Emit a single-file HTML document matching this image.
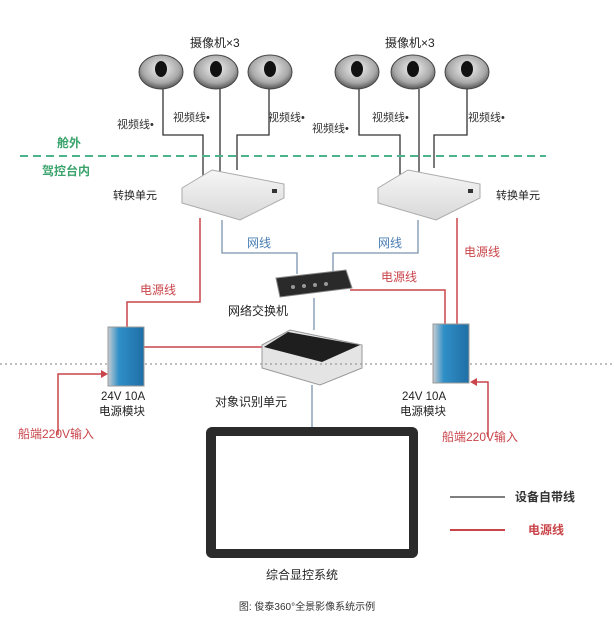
<!DOCTYPE html>
<html><head><meta charset="utf-8"><style>
html,body{margin:0;padding:0;background:#fff;}
svg{display:block;font-family:"Liberation Sans","Noto Sans CJK SC",sans-serif;}
</style></head><body>
<svg width="614" height="636" viewBox="0 0 614 636" xmlns="http://www.w3.org/2000/svg">
<defs>
<radialGradient id="cam" cx="50%" cy="40%" r="60%"><stop offset="0" stop-color="#f4f4f4"/><stop offset="0.7" stop-color="#a8a8a8"/><stop offset="1" stop-color="#555"/></radialGradient>
<linearGradient id="box" x1="0" y1="0" x2="0" y2="1"><stop offset="0" stop-color="#f6f6f6"/><stop offset="1" stop-color="#d8d8d8"/></linearGradient>
<linearGradient id="psu" x1="0" y1="0" x2="1" y2="0"><stop offset="0" stop-color="#c8cdd2"/><stop offset="0.3" stop-color="#2f8fc7"/><stop offset="1" stop-color="#1f6fa5"/></linearGradient>
</defs>
<g font-size="12" fill="#222">
<text x="190" y="47">摄像机×3</text><text x="385" y="47">摄像机×3</text>
</g>
<!-- cameras -->
<g>
<g transform="translate(161,72)"><ellipse rx="22" ry="17" fill="url(#cam)" stroke="#444"/><ellipse cy="-3" rx="6" ry="8" fill="#111"/></g>
<g transform="translate(216,72)"><ellipse rx="22" ry="17" fill="url(#cam)" stroke="#444"/><ellipse cy="-3" rx="6" ry="8" fill="#111"/></g>
<g transform="translate(270,72)"><ellipse rx="22" ry="17" fill="url(#cam)" stroke="#444"/><ellipse cy="-3" rx="6" ry="8" fill="#111"/></g>
<g transform="translate(357,72)"><ellipse rx="22" ry="17" fill="url(#cam)" stroke="#444"/><ellipse cy="-3" rx="6" ry="8" fill="#111"/></g>
<g transform="translate(413,72)"><ellipse rx="22" ry="17" fill="url(#cam)" stroke="#444"/><ellipse cy="-3" rx="6" ry="8" fill="#111"/></g>
<g transform="translate(467,72)"><ellipse rx="22" ry="17" fill="url(#cam)" stroke="#444"/><ellipse cy="-3" rx="6" ry="8" fill="#111"/></g>
</g>
<!-- video lines -->
<g fill="none" stroke="#333" stroke-width="1.3">
<polyline points="163,89 163,135 203,135 203,180"/>
<polyline points="220,89 220,172"/>
<polyline points="269,89 269,135 237,135 237,170"/>
<polyline points="359,89 359,135 400,135 400,180"/>
<polyline points="419,89 419,172"/>
<polyline points="467,89 467,135 434,135 434,168"/>
</g>
<g font-size="11" fill="#333">
<text x="117" y="128">视频线•</text><text x="173" y="121">视频线•</text><text x="268" y="121">视频线•</text>
<text x="312" y="132">视频线•</text><text x="372" y="121">视频线•</text><text x="468" y="121">视频线•</text>
</g>
<line x1="20" y1="156" x2="546" y2="156" stroke="#4db38a" stroke-width="2" stroke-dasharray="8,5"/>
<text x="57" y="147" font-size="12" font-weight="bold" fill="#3aa36b">舱外</text>
<text x="42" y="175" font-size="12" font-weight="bold" fill="#3aa36b">驾控台内</text>
<!-- converters -->
<g stroke="#aaa" fill="url(#box)">
<polygon points="182,188 212,170 284,184 284,198 240,220 182,203"/>
<polygon points="378,188 408,170 480,184 480,198 436,220 378,203"/>
</g>
<rect x="272" y="189" width="5" height="4" fill="#333"/><rect x="468" y="189" width="5" height="4" fill="#333"/>
<g font-size="11" fill="#222"><text x="113" y="199">转换单元</text><text x="496" y="199">转换单元</text></g>
<!-- network lines -->
<g fill="none" stroke="#7b93ad" stroke-width="1.3">
<polyline points="222,220 222,253 297,253 297,274"/>
<polyline points="418,220 418,253 333,253 333,274"/>
<line x1="314" y1="298" x2="314" y2="330"/>
<line x1="312" y1="385" x2="312" y2="428"/>
</g>
<g font-size="12" fill="#4a7fb5"><text x="247" y="247">网线</text><text x="378" y="247">网线</text></g>
<!-- switch -->
<polygon points="276,278 346,270 352,288 280,297" fill="#2a2a2a" stroke="#888"/>
<g fill="#999"><circle cx="293" cy="287" r="2"/><circle cx="304" cy="286" r="2"/><circle cx="315" cy="285" r="2"/><circle cx="326" cy="284" r="2"/></g>
<text x="228" y="315" font-size="12" fill="#222">网络交换机</text>
<!-- red power lines -->
<g fill="none" stroke="#c9454a" stroke-width="1.5">
<polyline points="200,218 200,302 127,302 127,328"/>
<line x1="143" y1="347" x2="262" y2="347"/>
<polyline points="457,218 457,325"/>
<polyline points="350,290 445,290 445,325"/>
<polyline points="58,435 58,374 104,374"/>
<polyline points="488,437 488,382 474,382"/>
</g>
<polygon points="108,374 101,370 101,378" fill="#c9454a"/>
<polygon points="470,382 477,378 477,386" fill="#c9454a"/>
<g font-size="12" fill="#c9454a">
<text x="140" y="294">电源线</text><text x="381" y="281">电源线</text><text x="464" y="256">电源线</text>
<text x="18" y="438">船端220V输入</text><text x="442" y="441">船端220V输入</text>
</g>
<!-- object unit -->
<polygon points="262,345 290,330 362,345 362,368 320,385 262,368" fill="#e4e4e4" stroke="#999"/>
<polygon points="288,332 360,345 322,362 264,347" fill="#1e1e1e"/>
<text x="215" y="406" font-size="12" fill="#222">对象识别单元</text>
<!-- dotted line -->
<line x1="0" y1="364" x2="614" y2="364" stroke="#999" stroke-width="1.2" stroke-dasharray="2,3"/>
<!-- power modules -->
<rect x="108" y="327" width="36" height="59" fill="url(#psu)" stroke="#999"/>
<rect x="433" y="324" width="36" height="59" fill="url(#psu)" stroke="#999"/>
<g font-size="11.5" fill="#222">
<text x="101" y="400">24V 10A</text><text x="99" y="415">电源模块</text>
<text x="402" y="400">24V 10A</text><text x="400" y="415">电源模块</text>
</g>
<!-- monitor -->
<rect x="206" y="427" width="212" height="131" rx="6" fill="#2b2b2b"/>
<rect x="216" y="436" width="193" height="113" fill="#fff"/>
<text x="266" y="579" font-size="12" fill="#222">综合显控系统</text>
<!-- legend -->
<line x1="450" y1="497" x2="505" y2="497" stroke="#555" stroke-width="1.5"/>
<text x="515" y="501" font-size="12" font-weight="bold" fill="#333">设备自带线</text>
<line x1="450" y1="530" x2="505" y2="530" stroke="#c9454a" stroke-width="2"/>
<text x="528" y="534" font-size="12" font-weight="bold" fill="#c9454a">电源线</text>
<text x="307" y="610" font-size="10" fill="#333" text-anchor="middle">图: 俊泰360°全景影像系统示例</text>
</svg>
</body></html>
